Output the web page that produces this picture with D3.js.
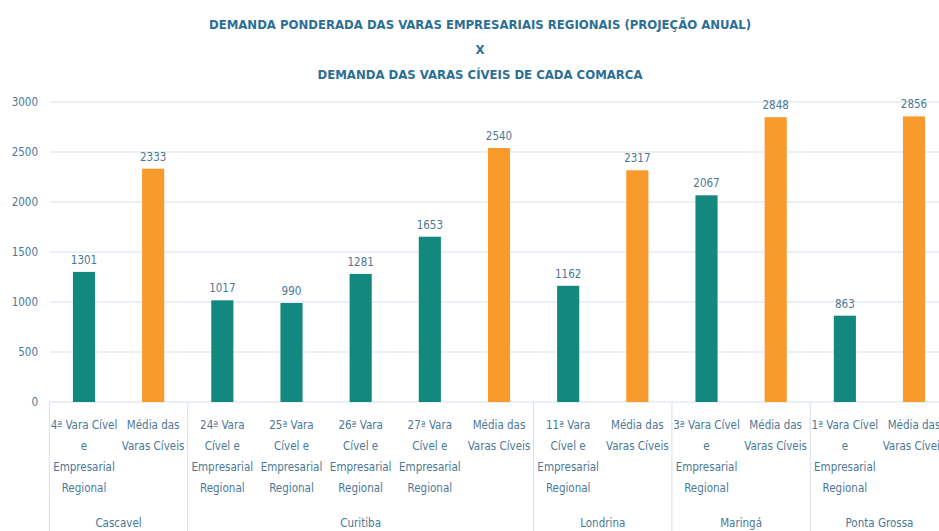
<!DOCTYPE html>
<html><head><meta charset="utf-8">
<script src="https://cdn.jsdelivr.net/npm/d3@7"></script>
<style>
body{margin:0;background:#fff;}
svg{display:block;}
text{font-family:"DejaVu Sans Condensed","DejaVu Sans",sans-serif;font-stretch:condensed;}
</style></head>
<body><svg id="c" width="939" height="531"></svg>
<script>
const titleLines = ["DEMANDA PONDERADA DAS VARAS EMPRESARIAIS REGIONAIS (PROJEÇÃO ANUAL)", "X", "DEMANDA DAS VARAS CÍVEIS DE CADA COMARCA"];
const categories = [
  ["4ª Vara Cível","e","Empresarial","Regional"],
  ["Média das","Varas Cíveis"],
  ["24ª Vara","Cível e","Empresarial","Regional"],
  ["25ª Vara","Cível e","Empresarial","Regional"],
  ["26ª Vara","Cível e","Empresarial","Regional"],
  ["27ª Vara","Cível e","Empresarial","Regional"],
  ["Média das","Varas Cíveis"],
  ["11ª Vara","Cível e","Empresarial","Regional"],
  ["Média das","Varas Cíveis"],
  ["3ª Vara Cível","e","Empresarial","Regional"],
  ["Média das","Varas Cíveis"],
  ["1ª Vara Cível","e","Empresarial","Regional"],
  ["Média das","Varas Cíveis"]
];
const values = [1301, 2333, 1017, 990, 1281, 1653, 2540, 1162, 2317, 2067, 2848, 863, 2856];
const kinds = ["vara","media","vara","vara","vara","vara","media","vara","media","vara","media","vara","media"];
const groups = ["Cascavel","Curitiba","Londrina","Maringá","Ponta Grossa"];
const groupSizes = [2,5,2,2,2];
const yTicks = [0,500,1000,1500,2000,2500,3000];

const colors = {vara:"#13887e", media:"#f89a2c"};
const textCol = "#4b7896";
const svg = d3.select("#c");

const idx = d3.range(values.length);
const x0 = 49.4, step0 = 69.17;
const x = d3.scaleBand().domain(idx).range([x0, x0 + step0*13]).paddingInner(0.68).paddingOuter(0.34);
const y = d3.scaleLinear().domain([0,3000]).range([402,102]);

// title
svg.append("g").selectAll("text").data(titleLines).join("text")
  .attr("x", 480).attr("y", (d,i)=> 29 + i*25)
  .attr("text-anchor","middle").attr("font-weight","bold").attr("font-size",13)
  .attr("fill","#2c6f96").text(d=>d);

// grid
svg.append("g").selectAll("line").data(yTicks.slice(1)).join("line")
  .attr("x1",50).attr("x2",939).attr("y1",d=>y(d)).attr("y2",d=>y(d))
  .attr("stroke","#e3ebf2").attr("stroke-width",1.5);

// y axis labels
const yAxis = d3.axisLeft(y).tickValues(yTicks).tickFormat(d3.format("d")).tickSize(0).tickPadding(12);
const ya = svg.append("g").attr("transform","translate(50,0)").call(yAxis);
ya.select(".domain").remove();
ya.selectAll("text").attr("fill",textCol).attr("font-size",11.5)
  .style("font-family",'"DejaVu Sans Condensed","DejaVu Sans",sans-serif').style("font-stretch","condensed");

// baseline
svg.append("line").attr("x1",50).attr("x2",939).attr("y1",y(0)).attr("y2",y(0)).attr("stroke","#d5e0ea").attr("stroke-width",1);

// bars
svg.append("g").selectAll("rect").data(idx).join("rect")
  .attr("x",i=>x(i)).attr("width",x.bandwidth())
  .attr("y",i=>y(values[i])).attr("height",i=>y(0)-y(values[i]))
  .attr("fill",i=>colors[kinds[i]]);

// value labels
svg.append("g").selectAll("text").data(idx).join("text")
  .attr("x",i=>x(i)+x.bandwidth()/2).attr("y",i=>y(values[i])-8)
  .attr("text-anchor","middle").attr("font-size",11.5).attr("fill",textCol)
  .text(i=>values[i]);

// category labels
const cg = svg.append("g");
idx.forEach(i=>{
  const cx = x(i)+x.bandwidth()/2;
  cg.append("text").attr("text-anchor","middle").attr("font-size",11.5).attr("fill",textCol)
    .selectAll("tspan").data(categories[i]).join("tspan")
    .attr("x",cx).attr("y",(d,j)=>429 + j*21).text(d=>d);
});

// group separators and labels
let start = 0;
const sepX = [x0];
groups.forEach((g,k)=>{
  const end = start + groupSizes[k];
  const l = x0 + start*x.step();
  const r = x0 + end*x.step();
  sepX.push(r);
  svg.append("text").attr("x",(l+r)/2).attr("y",527).attr("text-anchor","middle")
    .attr("font-size",11.5).attr("fill",textCol).text(g);
  start = end;
});
svg.append("g").selectAll("line").data(sepX).join("line")
  .attr("x1",d=>d).attr("x2",d=>d).attr("y1",402).attr("y2",531)
  .attr("stroke","#d5e0ea").attr("stroke-width",1);
</script>
</body></html>
